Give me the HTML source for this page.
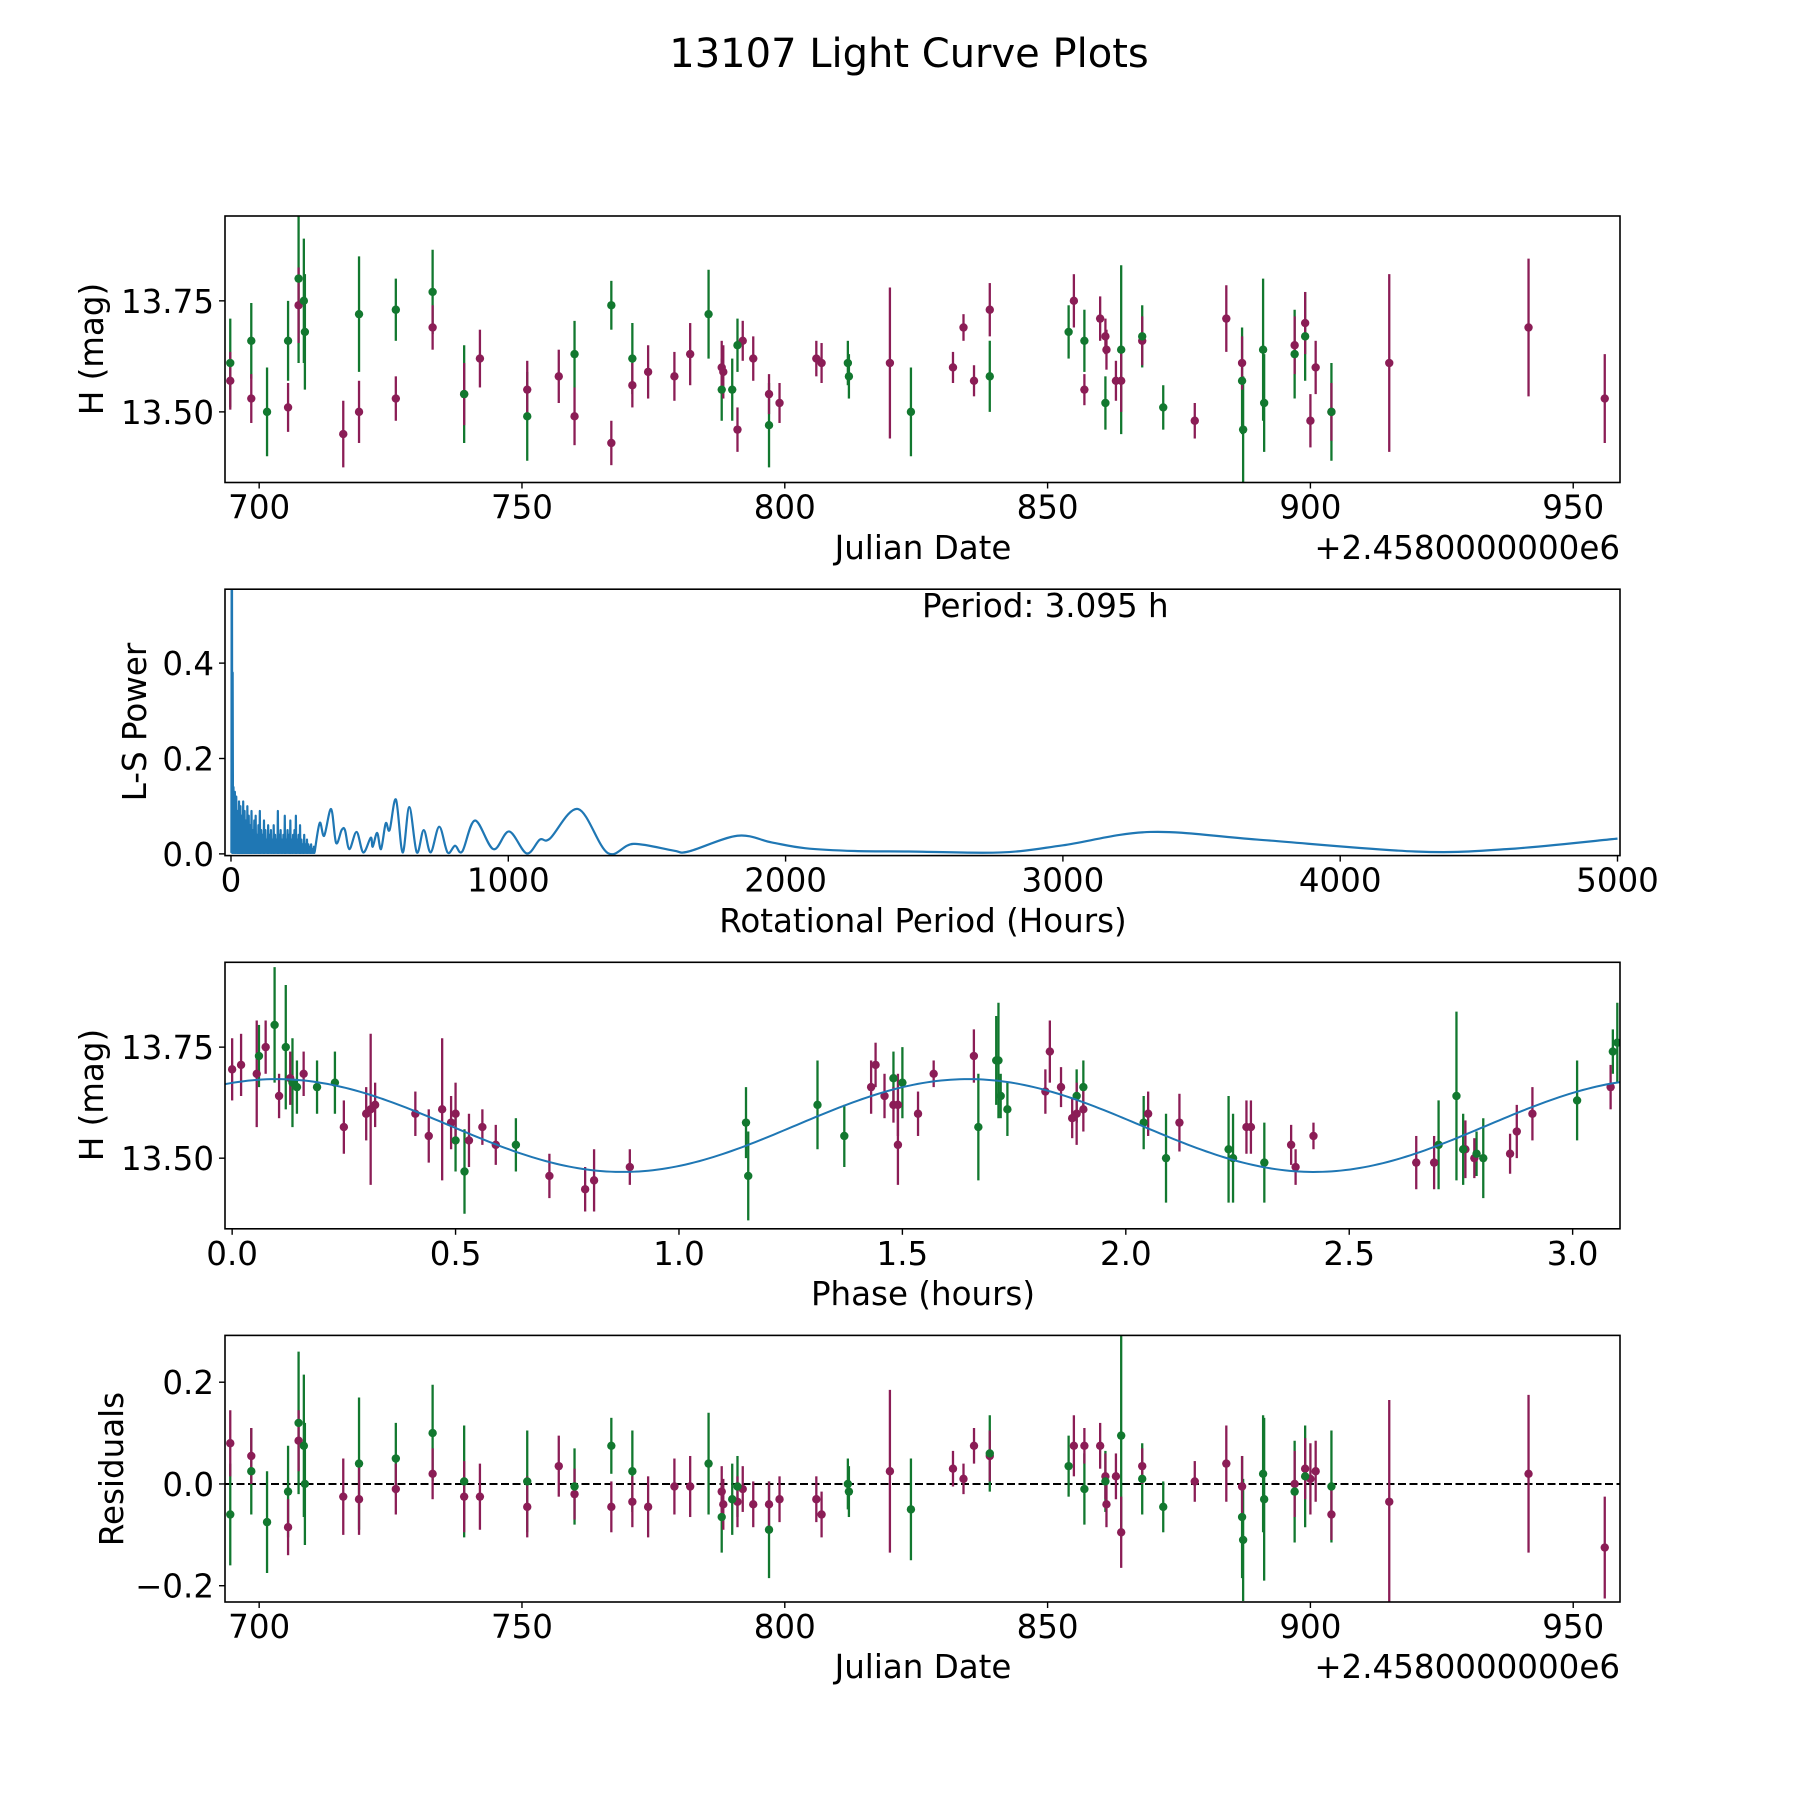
<!DOCTYPE html>
<html><head><meta charset="utf-8"><style>
html,body{margin:0;padding:0;background:#fff}
svg{display:block}
text{font-family:"DejaVu Sans","Liberation Sans",sans-serif;fill:#000}
</style></head><body>
<svg id="fig" width="1800" height="1800" viewBox="0 0 1800 1800" xmlns="http://www.w3.org/2000/svg">
<rect width="1800" height="1800" fill="#fff"/>
<text x="909" y="67" font-size="40" text-anchor="middle">13107 Light Curve Plots</text>
</svg>
<script>
// ---- Panel 1 / 4 data: magenta filter ----
const jdM   = [694.5,698.5,705.5,707.5,716,719,726,733,739,742,751,757,760,767,771,774,779,782,788,788.3,791,792,794,797,799,806,807,820,832,834,836,839,855,857,860,861,861.2,863,864,868,878,884,887,897,899,900,901,904,915,941.5,956];
const magM  = [13.57,13.53,13.51,13.74,13.45,13.50,13.53,13.69,13.54,13.62,13.55,13.58,13.49,13.43,13.56,13.59,13.58,13.63,13.60,13.59,13.46,13.66,13.62,13.54,13.52,13.62,13.61,13.61,13.60,13.69,13.57,13.73,13.75,13.55,13.71,13.67,13.64,13.57,13.57,13.66,13.48,13.71,13.61,13.65,13.70,13.48,13.60,13.50,13.61,13.69,13.53];
const errM  = [.065,.055,.055,.085,.075,.07,.05,.05,.07,.065,.065,.06,.065,.05,.05,.06,.055,.07,.06,.06,.05,.045,.05,.045,.045,.04,.045,.17,.035,.03,.035,.06,.06,.035,.05,.04,.045,.045,.07,.055,.04,.075,.06,.065,.07,.06,.06,.065,.20,.155,.10];
const resM  = [.08,.055,-.085,.085,-.025,-.03,-.01,.02,-.025,-.025,-.045,.035,-.02,-.045,-.035,-.045,-.005,-.005,-.015,-.04,-.035,-.01,-.04,-.04,-.03,-.03,-.06,.025,.03,.01,.075,.055,.075,.075,.075,.015,-.04,.015,-.095,.035,.005,.04,-.005,0,.03,.01,.025,-.06,-.035,.02,-.125];
const resErrM = [.065,.055,.055,.06,.075,.07,.05,.05,.07,.065,.06,.06,.05,.05,.05,.06,.055,.06,.05,.05,.05,.045,.045,.045,.045,.045,.045,.16,.035,.03,.035,.05,.06,.035,.045,.045,.045,.045,.07,.035,.04,.075,.06,.065,.06,.07,.06,.05,.20,.155,.10];
// ---- green filter ----
const jdG   = [694.5,698.5,701.5,705.5,707.5,708.5,708.7,719,726,733,739,751,760,767,771,785.5,788,790,791,797,812,812.2,824,839,854,857,861,864,868,872,887,887.2,891,891.2,897,899,904];
const magG  = [13.61,13.66,13.50,13.66,13.80,13.75,13.68,13.72,13.73,13.77,13.54,13.49,13.63,13.74,13.62,13.72,13.55,13.55,13.65,13.47,13.61,13.58,13.50,13.58,13.68,13.66,13.52,13.64,13.67,13.51,13.57,13.46,13.64,13.52,13.63,13.67,13.50];
const errG  = [.10,.085,.10,.09,.19,.14,.13,.13,.07,.095,.11,.10,.075,.055,.08,.10,.07,.07,.06,.095,.05,.05,.10,.08,.06,.07,.06,.19,.07,.05,.12,.12,.16,.11,.10,.10,.11];
const resG  = [-.06,.025,-.075,-.015,.12,.075,0,.04,.05,.10,.005,.005,-.005,.075,.025,.04,-.065,-.03,-.005,-.09,0,-.015,-.05,.06,.035,-.01,.005,.095,.01,-.045,-.065,-.11,.02,-.03,-.015,.015,-.005];
const resErrG = [.10,.085,.10,.09,.14,.14,.12,.13,.07,.095,.11,.10,.075,.055,.08,.10,.07,.07,.06,.095,.05,.05,.10,.075,.06,.07,.06,.20,.07,.05,.12,.12,.115,.16,.10,.10,.11];
// ---- Phase-folded data ----
const phM    = [0.00,0.02,0.055,0.075,0.105,0.13,0.16,0.25,0.30,0.31,0.32,0.41,0.44,0.47,0.49,0.50,0.53,0.56,0.59,0.71,0.79,0.81,0.89,1.43,1.44,1.46,1.48,1.49,1.49,1.535,1.57,1.66,1.82,1.83,1.855,1.88,1.89,1.905,2.05,2.12,2.27,2.28,2.37,2.38,2.42,2.65,2.69,2.76,2.78,2.86,2.875,2.91,3.085];
const phMagM = [13.70,13.71,13.69,13.75,13.64,13.68,13.69,13.57,13.60,13.61,13.62,13.60,13.55,13.61,13.58,13.60,13.54,13.57,13.53,13.46,13.43,13.45,13.48,13.66,13.71,13.64,13.62,13.53,13.62,13.60,13.69,13.73,13.65,13.74,13.66,13.59,13.60,13.61,13.60,13.58,13.57,13.57,13.53,13.48,13.55,13.49,13.49,13.52,13.50,13.51,13.56,13.60,13.66];
const phErrM = [.07,.07,.12,.06,.05,.06,.05,.06,.06,.17,.05,.05,.06,.16,.06,.07,.06,.04,.045,.05,.05,.07,.04,.06,.05,.05,.04,.09,.07,.05,.03,.06,.05,.07,.045,.045,.07,.05,.05,.065,.06,.06,.045,.04,.03,.06,.06,.065,.045,.045,.06,.06,.05];
const phG    = [0.06,0.095,0.12,0.135,0.145,0.19,0.23,0.50,0.52,0.635,1.15,1.155,1.31,1.37,1.48,1.50,1.67,1.71,1.715,1.72,1.735,1.89,1.905,2.04,2.09,2.23,2.24,2.31,2.70,2.74,2.755,2.785,2.80,3.01,3.09,3.10];
const phMagG = [13.73,13.80,13.75,13.67,13.66,13.66,13.67,13.54,13.47,13.53,13.58,13.46,13.62,13.55,13.68,13.67,13.57,13.72,13.72,13.64,13.61,13.64,13.66,13.58,13.50,13.52,13.50,13.49,13.53,13.64,13.52,13.51,13.50,13.63,13.74,13.76];
const phErrG = [.07,.13,.14,.10,.06,.06,.07,.07,.095,.06,.08,.10,.10,.07,.06,.08,.12,.10,.13,.05,.06,.06,.06,.06,.10,.12,.10,.09,.10,.19,.08,.05,.09,.09,.05,.09];
// fitted two-peaked sinusoid (mean, amplitude, peak phase, half-period)
const fitParams = [13.5735, 0.1045, 0.10, 1.5475];
// ---- Lomb-Scargle periodogram ----
const noisePeakP = [3,6,9,14,19,24,29,34,39,44,49,54,59,64,69,74,79,84,89,94,99,104,109,114,119,124,129,134,139,144,149,154,159,164,169,174,179,184,189,194,199,204,209,214,219,224,229,234,239,244,249,254,259,264,269,274,279,284,289,294,299];
const noisePeakV = [1.0,.38,.14,.13,.12,.09,.11,.10,.08,.11,.09,.07,.10,.08,.06,.09,.05,.07,.08,.04,.06,.09,.05,.04,.07,.05,.03,.06,.04,.05,.03,.06,.04,.03,.09,.04,.05,.03,.04,.08,.03,.05,.04,.07,.03,.04,.05,.08,.03,.04,.06,.03,.02,.04,.02,.03,.02,.015,.02,.01,.015];
const lsP = [302,320,336,361,379,399,411,427,453,477,504,511,527,541,558,572,595,619,643,670,695,720,751,781,808,834,880,946,1003,1066,1114,1150,1252,1358,1451,1595,1650,1826,1950,2070,2250,2444,2776,3000,3315,3700,4270,4600,5000];
const lsV = [.005,.065,.038,.094,.023,.05,.05,.01,.046,.003,.034,.015,.044,.01,.064,.05,.114,.003,.098,.003,.05,.003,.057,.003,.017,.005,.07,.01,.047,.001,.03,.032,.094,.002,.021,.007,.005,.038,.024,.012,.006,.005,.003,.018,.046,.03,.005,.01,.032];
const magTicks = [13.50, 13.75];
const jdTicks = [700,750,800,850,900,950];
const lsYTicks = [0.0,0.2,0.4];
const lsXTicks = [0,1000,2000,3000,4000,5000];
const phTicks = [0.0,0.5,1.0,1.5,2.0,2.5,3.0];
const resTicks = [-0.2,0.0,0.2];

const NS="http://www.w3.org/2000/svg";
const svg=document.getElementById('fig');
const L=225,R=1620,FS=32.5;
const MAG="#8b1d56", GRN="#12782f", BLUE="#1f77b4";
function el(tag,attrs,parent){const e=document.createElementNS(NS,tag);for(const k in attrs)e.setAttribute(k,attrs[k]);(parent||svg).appendChild(e);return e;}
function mkAxes(id,top,bot,xmin,xmax,ymin,ymax){
  const g=el('g',{});
  
  
  const cp=el('clipPath',{id:id+'-clip'},g);
  el('rect',{x:L,y:top,width:R-L,height:bot-top},cp);
  const sx=v=>L+(v-xmin)/(xmax-xmin)*(R-L);
  const sy=v=>bot-(v-ymin)/(ymax-ymin)*(bot-top);
  const plot=el('g',{'clip-path':'url(#'+id+'-clip)'},g);
  
  
  return {g,plot,sx,sy,top,bot};
}
function frame(a){const r=el('rect',{x:L,y:a.top,width:R-L,height:a.bot-a.top,fill:'none',stroke:'#000','stroke-width':1.6},a.g);
  }
function xTicks(a,ticks,fmt,name){ticks.forEach(t=>{const x=a.sx(t);
  el('line',{x1:x,x2:x,y1:a.bot,y2:a.bot+6,stroke:'#000','stroke-width':1.4},a.g);
  const tx=el('text',{x:x,y:a.bot+36,'font-size':FS,'text-anchor':'middle'},a.g);tx.textContent=fmt(t);
  });}
function yTicks(a,ticks,fmt,name){ticks.forEach(t=>{const y=a.sy(t);
  el('line',{x1:L-6,x2:L,y1:y,y2:y,stroke:'#000','stroke-width':1.4},a.g);
  const tx=el('text',{x:L-11,y:y+12,'font-size':FS,'text-anchor':'end'},a.g);tx.textContent=fmt(t);
  });}
function label(a,txt,x,y,rot,name,anchor){const t=el('text',{x:x,y:y,'font-size':FS,'text-anchor':anchor||'middle'},a.g);
  if(rot)t.setAttribute('transform','rotate(-90 '+x+' '+y+')');t.textContent=txt;
  }
function errbars(a,xs,ys,es,color,name){xs.forEach((x,i)=>{const l=el('line',{x1:a.sx(x),x2:a.sx(x),y1:a.sy(ys[i]-es[i]),y2:a.sy(ys[i]+es[i]),stroke:color,'stroke-width':2.3},a.plot);
  });}
function markers(a,xs,ys,color,name){xs.forEach((x,i)=>{const c=el('circle',{cx:a.sx(x),cy:a.sy(ys[i]),r:4.2,fill:color},a.plot);
  });}
const f2=v=>v.toFixed(2), f1=v=>(v<0?'\u2212':'')+Math.abs(v).toFixed(1), f0=v=>String(v);

// Panel 1
const a1=mkAxes('lightcurve',216,482.5,693.5,958.9,13.341,13.941);
errbars(a1,jdG,magG,errG,GRN,'green-filter');errbars(a1,jdM,magM,errM,MAG,'magenta-filter');
markers(a1,jdM,magM,MAG,'magenta-filter');markers(a1,jdG,magG,GRN,'green-filter');
frame(a1);xTicks(a1,jdTicks,f0,'x-jd');yTicks(a1,magTicks,f2,'y-mag');
label(a1,'Julian Date',923,559,false,'x-axis-title');
label(a1,'+2.4580000000e6',1620,559,false,'x-offset-text','end');
label(a1,'H (mag)',103,349,true,'y-axis-title');

// Panel 2
const a2=mkAxes('periodogram',589.2,855.6,-21.6,5009,-0.0036,0.555);
let d='';
noisePeakP.forEach((p,i)=>{d+=(i?'L':'M')+a2.sx(p-1.5)+','+a2.sy(0.002)+'L'+a2.sx(p)+','+a2.sy(noisePeakV[i])+'L'+a2.sx(p+1.5)+','+a2.sy(0.002);});
const pts=lsP.map((p,i)=>[a2.sx(p),a2.sy(lsV[i])]);
d+='L'+pts[0][0]+','+pts[0][1];
for(let i=0;i<pts.length-1;i++){const p0=pts[Math.max(0,i-1)],p1=pts[i],p2=pts[i+1],p3=pts[Math.min(pts.length-1,i+2)];
  const c1=[p1[0]+(p2[0]-p0[0])/6,p1[1]+(p2[1]-p0[1])/6],c2=[p2[0]-(p3[0]-p1[0])/6,p2[1]-(p3[1]-p1[1])/6];
  d+='C'+c1[0]+','+c1[1]+' '+c2[0]+','+c2[1]+' '+p2[0]+','+p2[1];}
const lsLine=el('path',{d:d,fill:'none',stroke:BLUE,'stroke-width':2.2,'stroke-linejoin':'round'},a2.plot);


frame(a2);xTicks(a2,lsXTicks,f0,'x-period');yTicks(a2,lsYTicks,f1,'y-power');
label(a2,'Rotational Period (Hours)',923,932,false,'x-axis-title');
label(a2,'L-S Power',146,722,true,'y-axis-title');
label(a2,'Period: 3.095 h',922,617,false,'period-annotation','start');

// Panel 3
const a3=mkAxes('phased',962.3,1228.8,-0.016,3.106,13.341,13.941);
let fd='';
for(let k=0;k<=300;k++){const p=-0.016+k*(3.122/300);
  const m=fitParams[0]+fitParams[1]*Math.cos(2*Math.PI*(p-fitParams[2])/fitParams[3]);
  fd+=(k?'L':'M')+a3.sx(p)+','+a3.sy(m);}
errbars(a3,phG,phMagG,phErrG,GRN,'green-phase');errbars(a3,phM,phMagM,phErrM,MAG,'magenta-phase');
markers(a3,phM,phMagM,MAG,'magenta-phase');markers(a3,phG,phMagG,GRN,'green-phase');
const fit=el('path',{d:fd,fill:'none',stroke:BLUE,'stroke-width':2},a3.plot);


frame(a3);xTicks(a3,phTicks,f1,'x-phase');yTicks(a3,magTicks,f2,'y-mag');
label(a3,'Phase (hours)',923,1305,false,'x-axis-title');
label(a3,'H (mag)',103,1095,true,'y-axis-title');

// Panel 4
const a4=mkAxes('residuals',1335.4,1602,693.5,958.9,-0.232,0.292);
const zl=el('line',{x1:L,x2:R,y1:a4.sy(0),y2:a4.sy(0),stroke:'#000','stroke-width':2,'stroke-dasharray':'8,3.5'},a4.plot);


errbars(a4,jdG,resG,resErrG,GRN,'green-residual');errbars(a4,jdM,resM,resErrM,MAG,'magenta-residual');
markers(a4,jdM,resM,MAG,'magenta-residual');markers(a4,jdG,resG,GRN,'green-residual');
frame(a4);xTicks(a4,jdTicks,f0,'x-jd');yTicks(a4,resTicks,f1,'y-residual');
label(a4,'Julian Date',923,1678,false,'x-axis-title');
label(a4,'+2.4580000000e6',1620,1678,false,'x-offset-text','end');
label(a4,'Residuals',123,1469,true,'y-axis-title');
</script>
</body></html>
